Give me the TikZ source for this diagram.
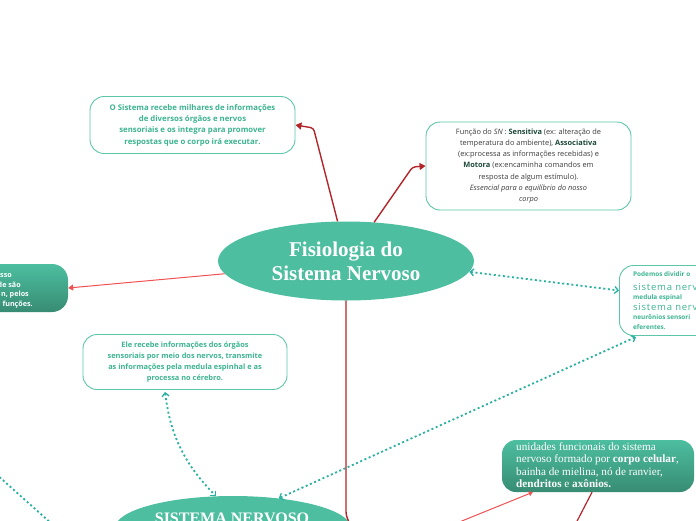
\documentclass[tikz,border=0pt]{standalone}
\usepackage{fontspec}
\setmainfont{Open Sans}
\newfontfamily\titlefont{Liberation Serif}
\usetikzlibrary{shapes.geometric,arrows.meta,calc}
\definecolor{tealfill}{RGB}{77,190,160}
\definecolor{tealdark}{RGB}{55,140,114}
\definecolor{boxborder}{RGB}{92,198,168}
\definecolor{tealtext}{RGB}{60,180,144}
\definecolor{dotteal}{RGB}{40,176,160}
\definecolor{darkred}{RGB}{178,38,42}
\definecolor{lightred}{RGB}{240,82,82}
\definecolor{boldgreen}{RGB}{28,72,58}
\definecolor{graytext}{RGB}{60,60,60}
\begin{document}
\begin{tikzpicture}[x=1pt,y=-1pt,
  wbox/.style={draw=boxborder, line width=0.9pt, fill=white, rounded corners=14pt, align=center, inner sep=0pt},
  gbox/.style={draw=none, rounded corners=16pt, top color=tealfill, bottom color=tealdark, inner sep=0pt},
  oval/.style={ellipse, fill=tealfill, text=white, align=center, inner sep=0pt},
  redline/.style={darkred, line width=1.4pt, rounded corners=3pt, -{Triangle[length=6pt,width=7pt]}},
  lredline/.style={lightred, line width=1pt, -{Triangle[length=5pt,width=6pt]}},
  dotline/.style={dotteal, line width=1.8pt, dash pattern=on 2pt off 2.6pt,
     {Straight Barb[length=3.5pt,width=7pt,line width=1.3pt]}-{Straight Barb[length=3.5pt,width=7pt,line width=1.3pt]}},
  txtteal/.style={text=tealtext, font=\fontsize{7.8}{11.3}\selectfont\bfseries, align=center},
]
\useasboundingbox (0,0) rectangle (696,520);

% main ellipse
\node[oval, minimum width=256pt, minimum height=79pt, font=\titlefont\bfseries\fontsize{21}{24}\selectfont] (main) at (346,261)
  {Fisiologia do\\ Sistema Nervoso};

% top-left box
\node[wbox, minimum width=205pt, minimum height=57pt] (b1) at (192.5,125) {};
\node[txtteal] (b1t) at (b1.center) {O Sistema recebe milhares de informações\\ de diversos órgãos e nervos\\ sensoriais e os integra para promover\\ respostas que o corpo irá executar.};

% top-right box
\node[wbox, minimum width=205pt, minimum height=88pt] (b2) at (528.5,166) {};
\node[text=graytext, align=center, font=\fontsize{7.4}{11.2}\selectfont] (b2t) at (b2.center)
 {Função do \textit{SN} : \textcolor{boldgreen}{\textbf{Sensitiva}} (ex: alteração de\\
  temperatura do ambiente), \textcolor{boldgreen}{\textbf{Associativa}}\\
  (ex:processa as informações recebidas) e\\
  \textcolor{boldgreen}{\textbf{Motora}} (ex:encaminha comandos em\\
  resposta de algum estímulo).\\
  \textit{Essencial para o equilíbrio do nosso}\\
  \textit{corpo}};

% left box (cut)
\node[gbox, minimum width=110pt, minimum height=48pt] (lb) at (13,288) {};
\begin{scope}[every node/.style={text=white, font=\fontsize{7.2}{9}\selectfont\bfseries, inner sep=0pt, anchor=base east}]
\node (l1) at (12,277) {sso};
\node (l2) at (21,287) {de são};
\node (l3) at (29,296) {n, pelos};
\node (l4) at (33,306) {funções.};
\end{scope}

% right box (cut)
\node[wbox, minimum width=150pt, minimum height=70pt, anchor=west] (rb) at (619,300.5) {};
\begin{scope}[every node/.style={text=tealtext, inner sep=0pt, anchor=base west}]
\node[font=\fontsize{6.4}{8}\selectfont\bfseries] (r1) at (633,276.5) {Podemos dividir o};
\node[font=\fontsize{9.5}{11}\selectfont\addfontfeature{LetterSpace=8}] (r2) at (633,290.5) {sistema nervo};
\node[font=\fontsize{6.4}{8}\selectfont\bfseries] (r3) at (633,299.5) {medula espinal};
\node[font=\fontsize{9.5}{11}\selectfont\addfontfeature{LetterSpace=8}] (r4) at (633,310.5) {sistema nervo};
\node[font=\fontsize{6.4}{8}\selectfont\bfseries] (r5) at (633,319.5) {neurônios sensori};
\node[font=\fontsize{6.4}{8}\selectfont\bfseries] (r6) at (633,329.5) {eferentes.};
\end{scope}

% middle-left box
\node[wbox, minimum width=204pt, minimum height=55pt] (mb) at (185,362) {};
\node[txtteal, font=\fontsize{7.4}{11.3}\selectfont\bfseries] (mbt) at (mb.center)
 {Ele recebe informações dos órgãos\\ sensoriais por meio dos nervos, transmite\\ as informações pela medula espinhal e as\\ processa no cérebro.};

% SISTEMA NERVOSO ellipse (cut)
\node[oval, minimum width=236pt, minimum height=64pt] (sn) at (233,528)
 {};
\node[text=white, inner sep=0pt, anchor=base] (snt) at (232,523)
 {\titlefont\bfseries\fontsize{16}{18}\selectfont SISTEMA NERVOSO};

% bottom-right box
\node[gbox, rounded corners=14pt, minimum width=192pt, minimum height=52pt] (br) at (598,466) {};
\node[text=white, align=left, inner sep=0pt, anchor=north west,
      font=\titlefont\fontsize{11.2}{12.4}\selectfont] (brt) at (516,442.5)
 {unidades funcionais do sistema\\ nervoso formado por \textbf{corpo celular},\\
  bainha de mielina, nó de ranvier,\\ \textbf{dendritos} e \textbf{axônios.}};

% free ends
\coordinate (fa) at (452,525);
\coordinate (fb) at (574,527);
\coordinate (fc) at (-4,474);
\coordinate (fd) at (52,524);

% connectors
\draw[redline] (main.102) -- ($(b1.east)+(18,3)$) -- (b1.east);
\draw[redline] (main.54) -- ($(b2.west)+(-13,1)$) -- (b2.west);
\draw[lredline] (main.186) -- (lb.east);
\draw[dotline] (main.-5) -- ($(rb.west)+(0,-10)$);
\draw[dotline] ($(rb.south west)+(17,1)$) -- (sn.33);
\draw[dotline] ($(mb.south)+(-20,2)$) .. controls +(4,30) and +(-40,-40) .. (sn.118);
\draw[redline] (main.south) -- ($(main.south)+(0,214)$) -- (sn.east);
\draw[lightred, line width=1pt, -{Triangle[length=4pt,width=5pt]}] (fa) -- ($(br.south west)+(31,0)$);
\draw[darkred, line width=1.2pt] ($(br.south)+(-6,0)$) -- (fb);
\draw[dotteal, line width=1.8pt, dash pattern=on 2pt off 2.6pt] (fc) -- (fd);
\end{tikzpicture}
\end{document}
